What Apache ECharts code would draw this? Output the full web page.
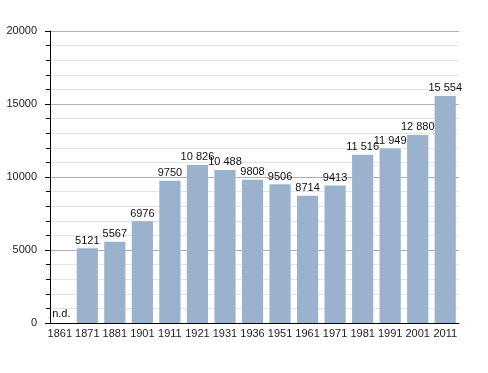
<!DOCTYPE html>
<html><head><meta charset="utf-8">
<script src="https://cdn.jsdelivr.net/npm/echarts@6/dist/echarts.min.js"></script>
<style>html,body{margin:0;padding:0;background:#fff}#c{width:488px;height:373px}</style>
</head><body><div id="c"></div>
<script>
const years = ['1861','1871','1881','1901','1911','1921','1931','1936','1951','1961','1971','1981','1991','2001','2011'];
const population = [null,5121,5567,6976,9750,10826,10488,9808,9506,8714,9413,11516,11949,12880,15554];
const yTicks = [0,5000,10000,15000,20000];

function fmt(v){ return v >= 10000 ? String(v).replace(/\B(?=(\d{3})+(?!\d))/g,' ') : String(v); }

const chart = echarts.init(document.getElementById('c'));
chart.setOption({
  animation:false,
  backgroundColor:'#fff',
  grid:{left:46,right:29,top:31,bottom:50},
  xAxis:{type:'category',data:years,
    axisLine:{lineStyle:{color:'#000',width:1}},
    axisTick:{show:false},
    axisLabel:{color:'#222',fontSize:11,fontFamily:'Liberation Sans',margin:5,interval:0}},
  yAxis:{type:'value',min:yTicks[0],max:yTicks[yTicks.length-1],interval:5000,offset:-4,
    axisLine:{show:true,lineStyle:{color:'#000',width:1}},
    axisTick:{show:true,length:5,lineStyle:{color:'#000'}},
    minorTick:{show:true,splitNumber:5,length:4,lineStyle:{color:'#000'}},
    splitLine:{show:true,lineStyle:{color:'#b0b0b0',width:1}},
    minorSplitLine:{show:true,lineStyle:{color:'#e4e4e4',width:1}},
    axisLabel:{color:'#222',fontSize:11,fontFamily:'Liberation Sans',margin:13,formatter:v=>String(v)}},
  series:[{type:'bar',barCategoryGap:'23%',
    itemStyle:{color:'#9ab2ce'},
    data:population.map(v=> v===null ? {value:0,label:{formatter:'n.d.',position:'insideBottomLeft',offset:[1,-2]}} : v),
    label:{show:true,position:'top',distance:2,color:'#111',fontSize:11,fontFamily:'Liberation Sans',
      formatter:p=>fmt(p.value)}}]
});
</script></body></html>
